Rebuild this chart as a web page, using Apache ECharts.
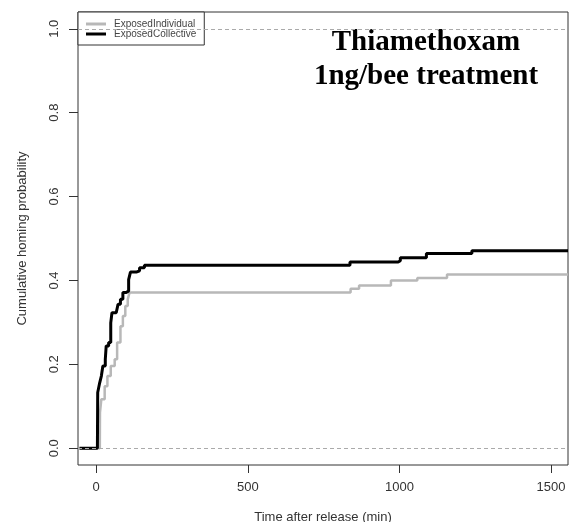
<!DOCTYPE html>
<html><head><meta charset="utf-8">
<script src="https://cdn.jsdelivr.net/npm/echarts@6/dist/echarts.min.js"></script>
<style>html,body{margin:0;padding:0;background:#fff}#c{width:572px;height:522px}</style>
</head><body><div id="c"></div>
<script>
// Data (time in min, cumulative homing probability)
var seriesNames = ['ExposedIndividual', 'ExposedCollective'];
var individualTime = [-55, 12, 12.5, 17, 28, 37, 48, 61, 69, 80, 88, 96, 104, 110, 839, 867, 972, 1059, 1157, 1556];
var individualProb = [0, 0, 0.085, 0.117, 0.148, 0.172, 0.196, 0.212, 0.252, 0.291, 0.315, 0.339, 0.355, 0.371, 0.380, 0.388, 0.400, 0.406, 0.414, 0.414];
var collectiveTime = [-55, 4, 5, 11.5, 17, 22, 30, 33, 41, 48, 52, 66, 72, 80, 88, 99, 107, 113, 132, 143, 159, 837, 996, 1003, 1089, 1239, 1556];
var collectiveProb = [0, 0, 0.133, 0.156, 0.172, 0.196, 0.212, 0.244, 0.252, 0.299, 0.323, 0.327, 0.343, 0.355, 0.371, 0.375, 0.402, 0.420, 0.423, 0.430, 0.436, 0.444, 0.447, 0.454, 0.464, 0.471, 0.471];
var xTicks = [0, 500, 1000, 1500];
var yTicks = [0, 0.2, 0.4, 0.6, 0.8, 1.0];
var refLines = [0, 1];
var titleLines = ['Thiamethoxam', '1ng/bee treatment'];

function pairs(t, p) { return t.map(function (v, i) { return [v, p[i]]; }); }

var chart = echarts.init(document.getElementById('c'), null, { renderer: 'canvas' });
var txt = '#333';
var sans = '"Liberation Sans", Arial, Helvetica, sans-serif';
chart.setOption({
  animation: false,
  backgroundColor: '#fff',
  grid: { left: 78, right: 4, top: 12, bottom: 57, show: true, borderColor: '#333', borderWidth: 1,
          backgroundColor: 'transparent', outerBoundsMode: 'none', containLabel: false },
  legend: {
    orient: 'vertical', left: 78, top: 12,
    data: seriesNames,
    icon: 'rect', itemWidth: 20, itemHeight: 3, itemGap: 0,
    padding: [7, 8, 6, 8],
    borderColor: '#333', borderWidth: 1, borderRadius: 0,
    backgroundColor: '#fff',
    textStyle: { fontFamily: sans, fontSize: 10, color: '#444', padding: [0, 0, 0, 3] }
  },
  xAxis: {
    type: 'value', min: -60, max: 1556,
    name: 'Time after release (min)', nameLocation: 'middle', nameGap: 46,
    nameTextStyle: { fontFamily: sans, fontSize: 13, color: txt },
    axisLine: { show: false, onZero: false },
    axisTick: { show: true, length: 8, customValues: xTicks, lineStyle: { color: '#333' } },
    axisLabel: { customValues: xTicks, margin: 16, fontFamily: sans, fontSize: 13, color: txt,
      formatter: function (v) { return String(v); } },
    splitLine: { show: false }
  },
  yAxis: {
    type: 'value', min: -0.04, max: 1.04,
    name: 'Cumulative homing probability', nameLocation: 'middle', nameGap: 49, nameRotate: 90,
    nameTextStyle: { fontFamily: sans, fontSize: 13, color: txt },
    axisLine: { show: false, onZero: false },
    axisTick: { show: true, length: 9, customValues: yTicks, lineStyle: { color: '#333' } },
    axisLabel: { customValues: yTicks, rotate: 90, margin: 17, fontFamily: sans, fontSize: 13, color: txt,
      formatter: function (v) { return v.toFixed(1); } },
    splitLine: { show: false }
  },
  graphic: [
    { type: 'text', x: 426, y: 43, style: { text: titleLines[0], align: 'center', verticalAlign: 'middle', font: 'bold 29px "Liberation Serif", "Times New Roman", serif', fill: '#000' } },
    { type: 'text', x: 426, y: 77, style: { text: titleLines[1], align: 'center', verticalAlign: 'middle', font: 'bold 29px "Liberation Serif", "Times New Roman", serif', fill: '#000' } }
  ],
  series: [
    {
      name: seriesNames[0], type: 'line', step: 'end', showSymbol: false, symbol: 'none',
      data: pairs(individualTime, individualProb),
      itemStyle: { color: '#b8b8b8' },
      lineStyle: { color: '#b8b8b8', width: 2.5 },
      z: 3,
      markLine: {
        silent: true, symbol: ['none', 'none'], label: { show: false },
        lineStyle: { color: '#aaa', type: [4, 3], width: 1 },
        data: refLines.map(function (v) { return { yAxis: v }; })
      }
    },
    {
      name: seriesNames[1], type: 'line', step: 'end', showSymbol: false, symbol: 'none',
      data: pairs(collectiveTime, collectiveProb),
      itemStyle: { color: '#000' },
      lineStyle: { color: '#000', width: 3 },
      z: 4
    }
  ]
});
</script></body></html>
